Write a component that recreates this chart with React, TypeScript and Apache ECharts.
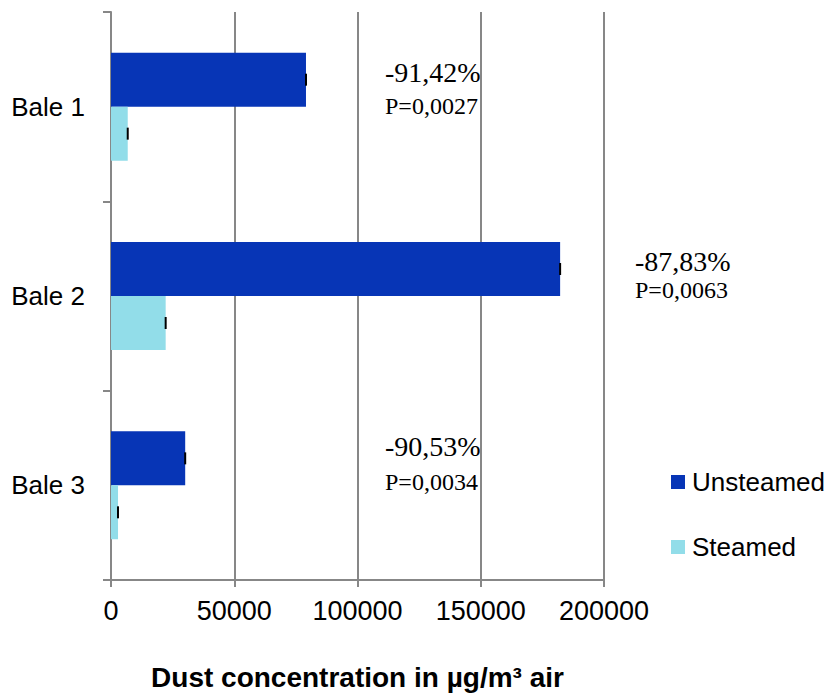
import React, { useEffect, useRef } from "react";
import * as echarts from "echarts";

// Dust concentration per bale, unsteamed vs steamed hay
const categories = ["Bale 1", "Bale 2", "Bale 3"];
const unsteamed = [79100, 182200, 30100];
const steamed = [6790, 22180, 2850];
const reductionLabels = ["-91,42%", "-87,83%", "-90,53%"];
const pValueLabels = ["P=0,0027", "P=0,0063", "P=0,0034"];
const xTicks = [0, 50000, 100000, 150000, 200000];

const SANS = "'Liberation Sans', Arial, sans-serif";
const SERIF = "'Liberation Serif', 'Times New Roman', serif";
const GRID_GREY = "#878787";
const DARK_BLUE = "#0735b6";
const LIGHT_BLUE = "#92dde9";

// half of the two-bar group height as a share of the category band
const BAR_OFFSET = 0.1425;

function capSeries(values: number[], sign: number) {
  return {
    type: "custom",
    silent: true,
    z: 5,
    encode: { x: 0, y: 1 },
    data: values.map((v, i) => [v, i]),
    renderItem: (_params: any, api: any) => {
      const pt = api.coord([api.value(0), api.value(1)]);
      const band = api.size([0, 1])[1];
      const cy = pt[1] + sign * band * BAR_OFFSET;
      return {
        type: "rect",
        shape: { x: pt[0] - 1, y: cy - 6, width: 2, height: 12 },
        style: { fill: "#000" },
      };
    },
  };
}

export default function App() {
  const ref = useRef<HTMLDivElement>(null);

  useEffect(() => {
    if (!ref.current) return;
    const chart = echarts.init(ref.current, undefined, { renderer: "svg" });

    // annotation anchors: left edge and the two text rows per bale
    const notePos = [
      { x: 385, y1: 72, y2: 106 },
      { x: 635, y1: 261, y2: 290 },
      { x: 385, y1: 446, y2: 482 },
    ];
    const notes: any[] = [];
    categories.forEach((_c, i) => {
      notes.push({
        type: "text",
        x: notePos[i].x,
        y: notePos[i].y1,
        style: {
          text: reductionLabels[i],
          font: `28px ${SERIF}`,
          fill: "#000",
          textVerticalAlign: "middle",
        },
      });
      notes.push({
        type: "text",
        x: notePos[i].x,
        y: notePos[i].y2,
        style: {
          text: pValueLabels[i],
          font: `24px ${SERIF}`,
          fill: "#000",
          textVerticalAlign: "middle",
        },
      });
    });

    chart.setOption({
      animation: false,
      backgroundColor: "#fff",
      grid: {
        left: 111,
        right: 225,
        top: 12,
        bottom: 114,
        containLabel: false,
        outerBoundsMode: "none",
      },
      legend: {
        data: ["Unsteamed", "Steamed"],
        orient: "vertical",
        left: 671,
        top: 467,
        padding: 0,
        itemWidth: 14,
        itemHeight: 14,
        itemGap: 35,
        icon: "rect",
        textStyle: {
          fontFamily: SANS,
          fontSize: 26,
          color: "#000",
          lineHeight: 30,
          padding: [0, 0, 0, 2],
        },
      },
      xAxis: {
        type: "value",
        min: 0,
        max: xTicks[xTicks.length - 1],
        interval: xTicks[1] - xTicks[0],
        axisLine: { show: true, lineStyle: { color: GRID_GREY, width: 2 } },
        axisTick: { show: true, length: 7, lineStyle: { color: GRID_GREY, width: 2 } },
        splitLine: { show: true, lineStyle: { color: GRID_GREY, width: 2 } },
        axisLabel: {
          fontFamily: SANS,
          fontSize: 27,
          color: "#000",
          margin: 17,
          formatter: (v: number) => String(v),
        },
        name: "Dust concentration in µg/m³ air",
        nameLocation: "middle",
        nameGap: 83,
        nameTextStyle: {
          fontFamily: SANS,
          fontSize: 28,
          fontWeight: "bold",
          color: "#000",
        },
      },
      yAxis: {
        type: "category",
        data: categories,
        inverse: true,
        axisLine: { show: true, lineStyle: { color: GRID_GREY, width: 2 } },
        axisTick: { show: true, length: 8, lineStyle: { color: GRID_GREY, width: 2 } },
        axisLabel: {
          fontFamily: SANS,
          fontSize: 26,
          color: "#000",
          margin: 26,
        },
      },
      series: [
        {
          name: "Unsteamed",
          type: "bar",
          data: unsteamed,
          barGap: "0%",
          barCategoryGap: "43%",
          itemStyle: { color: DARK_BLUE },
        },
        {
          name: "Steamed",
          type: "bar",
          data: steamed,
          barGap: "0%",
          barCategoryGap: "43%",
          itemStyle: { color: LIGHT_BLUE },
        },
        capSeries(unsteamed, -1),
        capSeries(steamed, 1),
      ],
      graphic: notes,
    });

    return () => chart.dispose();
  }, []);

  return <div ref={ref} style={{ width: 829, height: 694, position: "absolute", left: 0, top: 0 }} />;
}
